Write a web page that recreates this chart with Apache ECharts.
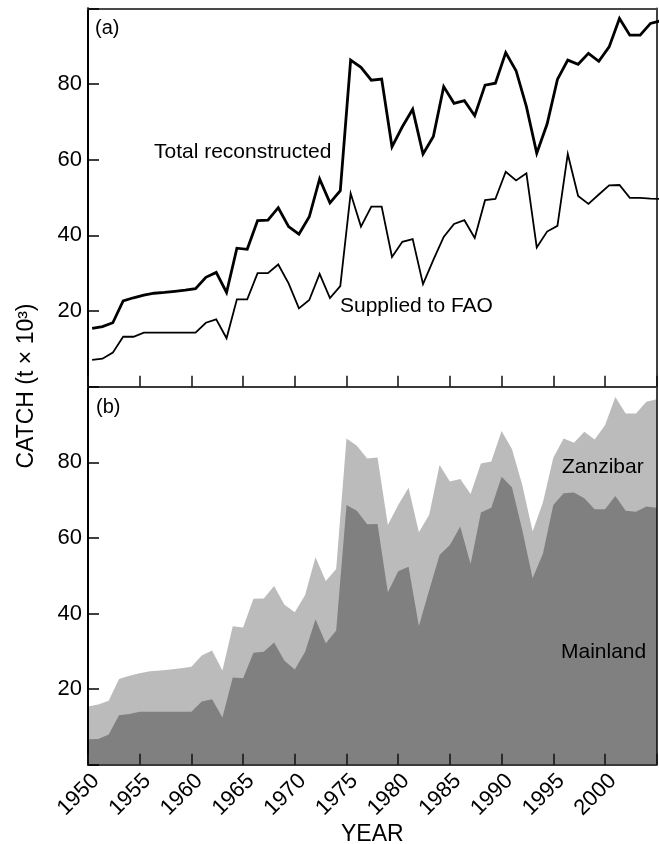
<!DOCTYPE html>
<html>
<head>
<meta charset="utf-8">
<script src="https://cdn.jsdelivr.net/npm/echarts@6/dist/echarts.min.js"></script>
<style>
html,body{margin:0;padding:0;background:#fff;}
#chart{width:659px;height:844px;}
</style>
</head>
<body>
<div id="chart"></div>
<script>
// ---- data (thousand tonnes) ----
var years = [];
for (var y = 1950; y <= 2005; y++) years.push(y);

var totalReconstructed = [
  15.4, 15.9, 16.9, 22.7, 23.5, 24.2, 24.7, 24.9, 25.2, 25.5,
  25.9, 28.9, 30.2, 24.9, 36.6, 36.3, 43.9, 44.0, 47.3, 42.3,
  40.3, 44.9, 54.9, 48.6, 51.8, 86.3, 84.4, 81.0, 81.3, 63.4,
  68.7, 73.3, 61.5, 66.1, 79.3, 74.9, 75.6, 71.6, 79.7, 80.2,
  88.3, 83.5, 74.0, 61.7, 69.4, 81.2, 86.3, 85.2, 88.1, 86.0,
  89.8, 97.3, 92.9, 92.9, 96.0, 96.7
];
var suppliedToFAO = [
  7.1, 7.4, 9.0, 13.2, 13.2, 14.3, 14.3, 14.3, 14.3, 14.3,
  14.3, 16.9, 17.8, 12.8, 23.1, 23.1, 30.0, 30.0, 32.3, 27.3,
  20.7, 22.9, 29.8, 23.4, 26.6, 51.1, 42.3, 47.6, 47.6, 34.3,
  38.3, 39.0, 27.1, 33.5, 39.6, 43.0, 44.0, 39.3, 49.3, 49.6,
  56.8, 54.5, 56.4, 36.8, 41.0, 42.5, 61.5, 50.4, 48.3, 50.8,
  53.2, 53.3, 49.9, 49.9, 49.7, 49.6
];
var mainland = [
  6.7, 6.8, 8.0, 13.1, 13.4, 14.0, 14.0, 14.0, 14.0, 14.0,
  14.0, 16.7, 17.3, 12.5, 23.1, 22.9, 29.6, 29.9, 32.3, 27.5,
  25.2, 29.9, 38.5, 32.1, 35.5, 68.7, 67.2, 63.6, 63.7, 45.6,
  51.2, 52.4, 36.7, 46.2, 55.5, 58.1, 63.0, 53.1, 66.7, 68.0,
  76.2, 73.4, 62.1, 49.3, 55.9, 68.7, 71.8, 72.0, 70.5, 67.6,
  67.6, 71.1, 67.2, 66.9, 68.3, 68.0
];
var yTicks = [20, 40, 60, 80];
var xTickLabels = [1950, 1955, 1960, 1965, 1970, 1975, 1980, 1985, 1990, 1995, 2000];

// ---- chart ----
var FONT = 'Liberation Sans, Arial, Helvetica, sans-serif';
var TOP_SHIFT = 0.4; // panel (a) points drawn slightly after the year mark

function pairs(vals, shift) {
  return years.map(function (yr, i) { return [yr + shift, vals[i]]; });
}

function xAxisCfg(gridIndex, showLabels) {
  return {
    type: 'value', gridIndex: gridIndex, min: 1950, max: 2005, interval: 5,
    position: 'bottom', z: 10,
    axisLine: { show: true, onZero: false, lineStyle: { color: '#3a3a3a', width: 2 } },
    axisTick: { show: true, inside: true, length: 11, lineStyle: { color: '#111', width: 1.5 } },
    splitLine: { show: false },
    axisLabel: {
      show: showLabels, rotate: 45, margin: 5, fontSize: 22, color: '#000', fontFamily: FONT,
      align: 'right', verticalAlign: 'top',
      formatter: function (v) { return xTickLabels.indexOf(v) >= 0 ? String(v) : ''; }
    }
  };
}
function frameX(gridIndex) {
  return {
    type: 'value', gridIndex: gridIndex, min: 1950, max: 2005, position: 'top', z: 10,
    axisLine: { show: true, onZero: false, lineStyle: { color: '#4a4a4a', width: 2 } },
    axisTick: { show: false }, axisLabel: { show: false }, splitLine: { show: false }
  };
}
function yAxisCfg(gridIndex) {
  return {
    type: 'value', gridIndex: gridIndex, min: 0, max: 100, interval: 20, position: 'left', z: 10,
    axisLine: { show: true, onZero: false, lineStyle: { color: '#000', width: 2 } },
    axisTick: { show: true, inside: true, length: 11, lineStyle: { color: '#000', width: 1.5 } },
    splitLine: { show: false },
    axisLabel: {
      margin: 6, fontSize: 22, color: '#000', fontFamily: FONT,
      formatter: function (v) { return yTicks.indexOf(v) >= 0 ? String(v) : ''; }
    }
  };
}
function frameY(gridIndex) {
  return {
    type: 'value', gridIndex: gridIndex, min: 0, max: 100, position: 'right', z: 10,
    axisLine: { show: true, onZero: false, lineStyle: { color: '#000', width: 1.5 } },
    axisTick: { show: false }, axisLabel: { show: false }, splitLine: { show: false }
  };
}

var chart = echarts.init(document.getElementById('chart'), null, { renderer: 'canvas' });

var yearAxis = xAxisCfg(1, true);
yearAxis.name = 'YEAR';
yearAxis.nameLocation = 'middle';
yearAxis.nameGap = 56;
yearAxis.nameTextStyle = { fontSize: 23, color: '#000', fontFamily: FONT };

chart.setOption({
  animation: false,
  backgroundColor: '#fff',
  grid: [
    { left: 88, right: 2.3, top: 8.3, height: 378.4, containLabel: false, outerBoundsMode: 'none' },
    { left: 88, right: 2.3, top: 386.7, height: 378, containLabel: false, outerBoundsMode: 'none' }
  ],
  xAxis: [ xAxisCfg(0, false), frameX(0), yearAxis ],
  yAxis: [ yAxisCfg(0), frameY(0), yAxisCfg(1), frameY(1) ],
  series: [
    {
      name: 'Total reconstructed', type: 'line', xAxisIndex: 0, yAxisIndex: 0,
      data: pairs(totalReconstructed, TOP_SHIFT), symbol: 'none', clip: true,
      lineStyle: { color: '#000', width: 2.8, join: 'miter' }
    },
    {
      name: 'Supplied to FAO', type: 'line', xAxisIndex: 0, yAxisIndex: 0,
      data: pairs(suppliedToFAO, TOP_SHIFT), symbol: 'none', clip: true,
      lineStyle: { color: '#000', width: 1.8, join: 'miter' }
    },
    {
      name: 'Zanzibar', type: 'line', xAxisIndex: 2, yAxisIndex: 2,
      data: pairs(totalReconstructed, 0), symbol: 'none',
      lineStyle: { width: 0 }, areaStyle: { color: '#bbbbbb', opacity: 1 }
    },
    {
      name: 'Mainland', type: 'line', xAxisIndex: 2, yAxisIndex: 2,
      data: pairs(mainland, 0), symbol: 'none',
      lineStyle: { width: 0 }, areaStyle: { color: '#808080', opacity: 1 }
    }
  ],
  graphic: [
    { type: 'text', x: 95, y: 28.5, z: 20, style: { text: '(a)', fontSize: 20, fontFamily: FONT, fill: '#000', textVerticalAlign: 'middle' } },
    { type: 'text', x: 96, y: 407.5, z: 20, style: { text: '(b)', fontSize: 20, fontFamily: FONT, fill: '#000', textVerticalAlign: 'middle' } },
    { type: 'text', x: 154, y: 152, z: 20, style: { text: 'Total reconstructed', fontSize: 21, fontFamily: FONT, fill: '#000', textVerticalAlign: 'middle' } },
    { type: 'text', x: 340, y: 306, z: 20, style: { text: 'Supplied to FAO', fontSize: 21, fontFamily: FONT, fill: '#000', textVerticalAlign: 'middle' } },
    { type: 'text', x: 562, y: 467, z: 20, style: { text: 'Zanzibar', fontSize: 21, fontFamily: FONT, fill: '#000', textVerticalAlign: 'middle' } },
    { type: 'text', x: 561, y: 652, z: 20, style: { text: 'Mainland', fontSize: 21, fontFamily: FONT, fill: '#000', textVerticalAlign: 'middle' } },
    { type: 'text', x: 27, y: 386, rotation: Math.PI / 2, z: 20,
      style: { text: 'CATCH (t × 10³)', fontSize: 23, fontFamily: FONT, fill: '#000', textAlign: 'center', textVerticalAlign: 'middle' } }
  ]
});
</script>
</body>
</html>
